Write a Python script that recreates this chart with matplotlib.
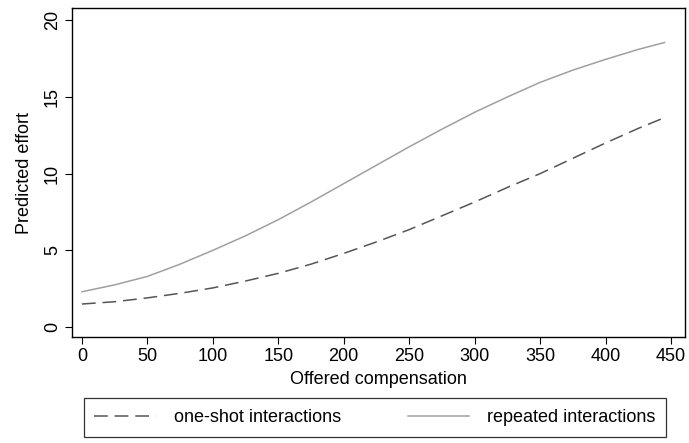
import matplotlib
matplotlib.use("Agg")
import matplotlib.pyplot as plt

plt.rcParams['font.family'] = ['Liberation Sans', 'DejaVu Sans']

compensation = [0, 25, 50, 75, 100, 125, 150, 175, 200, 225, 250, 275, 300,
                325, 350, 375, 400, 425, 445]
effort_oneshot = [1.5, 1.65, 1.9, 2.2, 2.55, 3.0, 3.5, 4.1, 4.8, 5.55, 6.35,
                  7.25, 8.15, 9.1, 10.0, 11.0, 12.0, 12.95, 13.65]
effort_repeated = [2.3, 2.75, 3.3, 4.1, 5.0, 5.95, 7.0, 8.15, 9.35, 10.55,
                   11.75, 12.9, 14.0, 15.0, 15.95, 16.75, 17.45, 18.1, 18.55]
x_ticks = [0, 50, 100, 150, 200, 250, 300, 350, 400, 450]
y_ticks = [0, 5, 10, 15, 20]

FS = 13

fig = plt.figure(figsize=(6.89, 4.43), dpi=100)
ax = fig.add_axes([72 / 689, 1 - 337 / 443, (685 - 72) / 689, (337 - 8) / 443])

ax.plot(compensation, effort_oneshot, color='#555555', lw=1.1,
        dashes=(9, 4.5), label='one-shot interactions')
ax.plot(compensation, effort_repeated, color='#a0a0a0', lw=1.1,
        label='repeated interactions')

ax.set_xlim(-7.6, 460.7)
ax.set_ylim(-0.65, 20.8)
ax.set_xticks(x_ticks)
ax.set_yticks(y_ticks)
ax.tick_params(direction='out', length=5, width=0.8, labelsize=FS, colors='black', pad=3)
for lab in ax.get_yticklabels():
    lab.set_rotation(90)
    lab.set_va('center')
for s in ax.spines.values():
    s.set_linewidth(1.0)

ax.set_xlabel('Offered compensation', fontsize=FS, labelpad=4)
ax.set_ylabel('Predicted effort', fontsize=FS, labelpad=8)

leg = fig.legend(loc='center', bbox_to_anchor=(375 / 689, 1 - 417.5 / 443),
                 ncol=2, frameon=True, fancybox=False, fontsize=FS,
                 handlelength=3.4, handletextpad=1.0, columnspacing=3.7,
                 borderpad=0.6, edgecolor='black')
leg.get_frame().set_linewidth(0.9)

fig.savefig('out.png', dpi=100)
